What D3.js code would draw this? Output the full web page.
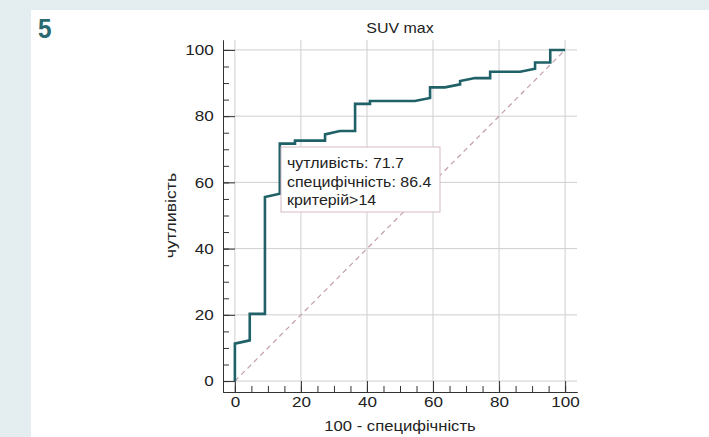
<!DOCTYPE html>
<html>
<head>
<meta charset="utf-8">
<script src="https://cdn.jsdelivr.net/npm/d3@7"></script>
<style>
    body { margin: 0; background: #e4eef1; }
    svg { display: block; font-family: "Liberation Sans", Arial, sans-serif; }
</style>
</head>
<body>
<div id="roc-graphic"></div>
<script>
// 100 - specificity (x) and sensitivity (y) of the ROC steps
let fpr = [0, 0, 4.5, 4.5, 9.1, 9.1, 13.6, 13.6, 18.2, 18.2, 27.3, 27.3, 31.8, 36.4, 36.4, 40.9, 40.9,
    54.5, 59.1, 59.1, 63.6, 68.2, 68.2, 72.7, 77.3, 77.3, 86.4, 90.9, 90.9, 95.5, 95.5, 100];
let sens = [0, 11.3, 12.3, 20.3, 20.3, 55.6, 56.6, 71.7, 71.7, 72.6, 72.6, 74.5, 75.5, 75.5, 83.7, 83.7, 84.6,
    84.6, 85.5, 88.7, 88.7, 89.6, 90.6, 91.5, 91.5, 93.4, 93.4, 94.3, 96.2, 96.2, 100, 100];
let tickValues = [0, 20, 40, 60, 80, 100];
let minorTicks = d3.range(0, 101, 5);
let tooltipLines = ["чутливість: 71.7", "специфічність: 86.4", "критерій>14"];

var width = 709, height = 437;
var stretch = 1.14; // the picture's text is a bit wider than plain Arial

var svg = d3.select("#roc-graphic").append("svg")
    .attr("width", width)
    .attr("height", height);

function addText(parent, tx, ty, str, size, anchor, rot) {
    return parent.append("text")
        .attr("transform", "translate(" + tx + "," + ty + ")" + (rot ? " rotate(" + rot + ")" : "") + " scale(" + stretch + ",1)")
        .attr("text-anchor", anchor || "start")
        .attr("font-size", size)
        .attr("fill", "#222")
        .text(str);
}

// white panel
svg.append("rect").attr("x", 31).attr("y", 10)
    .attr("width", width - 31).attr("height", height - 10)
    .attr("fill", "#fff");

addText(svg, 38, 38, "5", 27).attr("font-weight", "bold").attr("fill", "#2b6970")
    .attr("transform", "translate(38,38) scale(0.9,1)");

var x = d3.scaleLinear().domain([-3.6, 103.6]).range([223, 577]);
var y = d3.scaleLinear().domain([-3.3, 103]).range([392, 40]);

// grid
var grid = svg.append("g").attr("stroke", "#cfcfcf").attr("stroke-width", 1);
grid.selectAll(".gx").data(tickValues).enter().append("line")
    .attr("x1", d => x(d)).attr("x2", d => x(d))
    .attr("y1", y.range()[1]).attr("y2", y.range()[0]);
grid.selectAll(".gy").data(tickValues).enter().append("line")
    .attr("y1", d => y(d)).attr("y2", d => y(d))
    .attr("x1", x.range()[0]).attr("x2", x.range()[1]);

// axes: ticks point inwards, labels outside
var yMinor = d3.axisLeft(y).tickValues(minorTicks).tickSize(-6).tickSizeOuter(0).tickFormat("");
var yMajor = d3.axisLeft(y).tickValues(tickValues).tickSize(-12).tickSizeOuter(0).tickPadding(8);
var xMinor = d3.axisBottom(x).tickValues(minorTicks).tickSize(-6).tickSizeOuter(0).tickFormat("");
var xMajor = d3.axisBottom(x).tickValues(tickValues).tickSize(-11).tickSizeOuter(0).tickPadding(4);

svg.append("g").attr("transform", "translate(" + x.range()[0] + ",0)").call(yMinor);
svg.append("g").attr("transform", "translate(" + x.range()[0] + ",0)").call(yMajor);
svg.append("g").attr("transform", "translate(0," + y.range()[0] + ")").call(xMinor);
svg.append("g").attr("transform", "translate(0," + y.range()[0] + ")").call(xMajor);

svg.selectAll(".domain, .tick line").attr("stroke", "#333");
svg.selectAll(".tick text").attr("font-size", 15).attr("fill", "#222")
    .attr("font-family", "Liberation Sans, Arial, sans-serif")
    .attr("transform", "scale(" + stretch + ",1)");

// diagonal reference
svg.append("line")
    .attr("x1", x(0)).attr("y1", y(0))
    .attr("x2", x(100)).attr("y2", y(100))
    .attr("stroke", "#c29caf").attr("stroke-width", 1.2)
    .attr("stroke-dasharray", "5,4");

// ROC curve
var line = d3.line()
    .x(function (d) { return x(d[0]); })
    .y(function (d) { return y(d[1]); });
svg.append("path")
    .attr("d", line(d3.zip(fpr, sens)))
    .attr("fill", "none")
    .attr("stroke", "#1f6166")
    .attr("stroke-width", 2.6);

// titles
var midX = (x(0) + x(100)) / 2;
addText(svg, midX, 33, "SUV max", 14, "middle");
addText(svg, midX, 431, "100 - специфічність", 14.6, "middle");
addText(svg, 176, (y(0) + y(100)) / 2, "чутливість", 15.5, "middle", -90);

// tooltip box
var tip = svg.append("g").attr("transform", "translate(281,147)");
tip.append("rect").attr("width", 159).attr("height", 65)
    .attr("fill", "#fff").attr("stroke", "#d6b9c7").attr("stroke-width", 1);
tooltipLines.forEach(function (t, i) {
    addText(tip, 6, 21 + i * 18.7, t, 14);
});
</script>
</body>
</html>
